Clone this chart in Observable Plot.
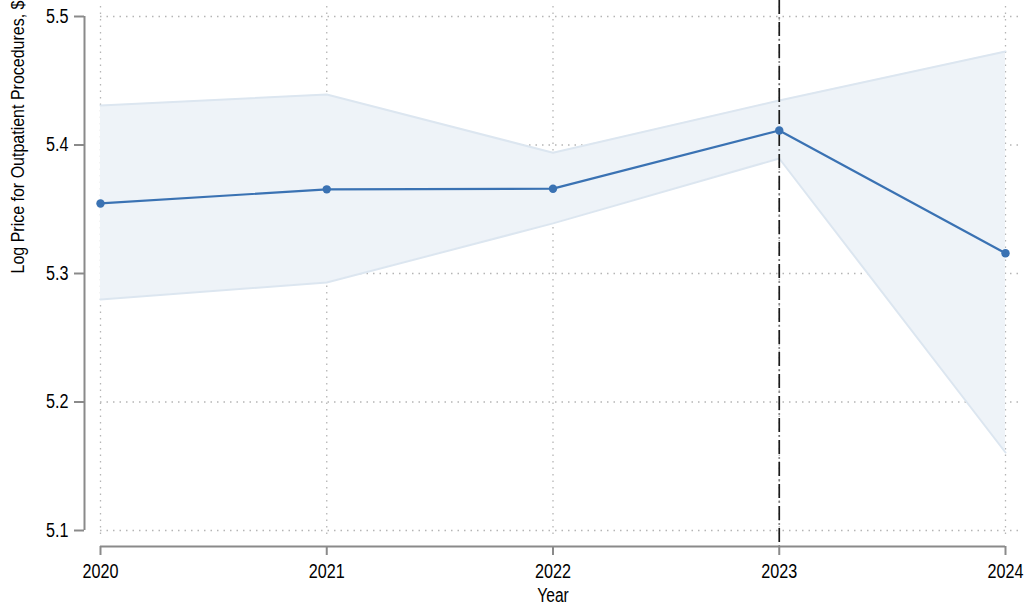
<!DOCTYPE html>
<html>
<head>
<meta charset="utf-8">
<script src="https://cdn.jsdelivr.net/npm/d3@7"></script>
<script src="https://cdn.jsdelivr.net/npm/@observablehq/plot@0.6"></script>
<style>
  html, body { margin: 0; padding: 0; background: #fff; }
  #chart svg { display: block; }
</style>
</head>
<body>
<div id="chart"></div>
<script>
const years = [2020, 2021, 2022, 2023, 2024];
const estimate = [5.3545, 5.3655, 5.366, 5.4113, 5.3158];
const upper = [5.4307, 5.4393, 5.394, 5.4346, 5.4728];
const lower = [5.2798, 5.293, 5.339, 5.3895, 5.1607];
const yTicks = [5.1, 5.2, 5.3, 5.4, 5.5];
const eventYear = [2023];
const xTitle = "Year";
const yTitle = "Log Price for Outpatient Procedures, $";

const data = years.map((year, i) => ({year, est: estimate[i], hi: upper[i], lo: lower[i]}));

const font = "'Liberation Sans Narrow', 'Liberation Sans', Arial, sans-serif";

const chart = Plot.plot({
  width: 1026,
  height: 612,
  marginLeft: 100,
  marginRight: 21,
  marginTop: 16,
  marginBottom: 82,
  style: {fontFamily: font, fontSize: "20px", color: "#000", background: "#fff"},
  x: {domain: [2020, 2024], label: null},
  y: {domain: [5.1, 5.5], label: null},
  marks: [
    // dotted grid
    Plot.ruleY(yTicks, {stroke: "#b5b5b5", strokeDasharray: "1.5,5", strokeWidth: 1.3, insetRight: -15}),
    Plot.ruleX(years, {stroke: "#b5b5b5", strokeDasharray: "1.5,5", strokeWidth: 1.3, insetTop: -10, insetBottom: -8}),
    // confidence band
    Plot.areaY(data, {x: "year", y1: "lo", y2: "hi", fill: "#eef3f8"}),
    Plot.lineY(data, {x: "year", y: "hi", stroke: "#dce6f0", strokeWidth: 2}),
    Plot.lineY(data, {x: "year", y: "lo", stroke: "#dce6f0", strokeWidth: 2}),
    // event line
    Plot.ruleX(eventYear, {stroke: "#1a1a1a", strokeWidth: 1.7, strokeDasharray: "14,3.5,1,3.5", insetTop: -16, insetBottom: -16}),
    // estimate line and points
    Plot.lineY(data, {x: "year", y: "est", stroke: "#3a72b3", strokeWidth: 2.2}),
    Plot.dot(data, {x: "year", y: "est", fill: "#3a72b3", r: 4.2}),
    // axis lines (offset)
    Plot.ruleX([2020], {y1: 5.1, y2: 5.5, dx: -16, stroke: "#8a8a8a", strokeWidth: 2}),
    Plot.ruleY([5.1], {x1: 2020, x2: 2024, dy: 16, stroke: "#8a8a8a", strokeWidth: 2}),
    Plot.axisY(yTicks, {tickSize: 10, dx: -16, tickPadding: 6, stroke: "#8a8a8a", strokeWidth: 2, tickFormat: d3.format(".1f"), fontSize: 20, label: null}),
    Plot.axisX(years, {tickSize: 9, dy: 16, tickPadding: 8, stroke: "#8a8a8a", strokeWidth: 2, tickFormat: d => String(d), fontSize: 20, label: null}),
    Plot.text([xTitle], {frameAnchor: "bottom", dy: 71, fontSize: 20, fill: "#000", className: "xtitle"}),
    Plot.text([yTitle], {frameAnchor: "left", dx: -82, rotate: -90, fontSize: 18, fill: "#000", className: "ytitle"})
  ]
});

document.getElementById("chart").appendChild(chart);

// condense text to mimic a narrow sans-serif face
chart.querySelectorAll("text").forEach(t => {
  const len = t.getComputedTextLength();
  if (!len) return;
  const inY = t.closest(".ytitle");
  const inX = t.closest(".xtitle");
  const target = inY ? 273 : len * (inX ? 0.78 : 0.81);
  t.setAttribute("textLength", target.toFixed(1));
  t.setAttribute("lengthAdjust", "spacingAndGlyphs");
});
</script>
</body>
</html>
